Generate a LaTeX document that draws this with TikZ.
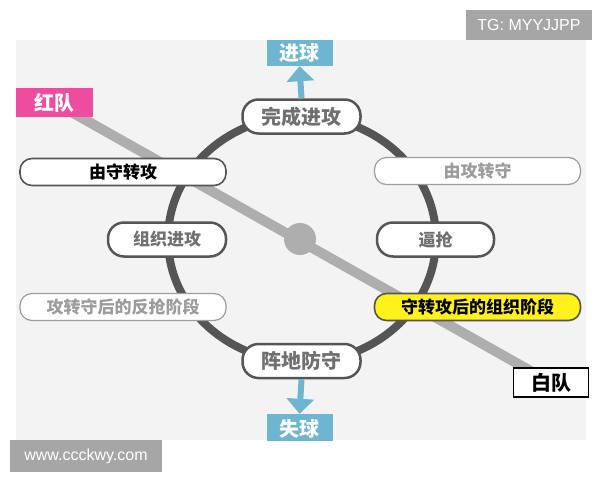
\documentclass[tikz,border=0pt]{standalone}
\usepackage{fontspec}
\setmainfont{Liberation Sans}
\newfontfamily\cjk{Noto Sans CJK SC}
\usetikzlibrary{arrows.meta,backgrounds}
\definecolor{panelc}{HTML}{F3F3F3}
\definecolor{ringc}{HTML}{555555}
\definecolor{teamc}{HTML}{AEAEAE}
\definecolor{bluec}{HTML}{6DB5D0}
\definecolor{pinkc}{HTML}{EE4D9E}
\definecolor{yelc}{HTML}{FFF21A}
\definecolor{tagc}{HTML}{A6A6A6}
\definecolor{txtg}{HTML}{707070}
\definecolor{txtl}{HTML}{9C9C9C}
\begin{document}
\begin{tikzpicture}[x=1pt,y=-1pt,
  pill/.style={draw=ringc,line width=2.5pt,fill=white,rounded corners=16pt,
    minimum width=118pt,minimum height=34pt,inner sep=0pt,text=txtg,
    font=\cjk\bfseries\fontsize{17}{17}\selectfont},
  bigpill/.style={pill,font=\cjk\bfseries\fontsize{20}{20}\selectfont},
  bar/.style={fill=white,rounded corners=12pt,minimum width=206pt,minimum height=27pt,
    inner sep=0pt,font=\cjk\bfseries\fontsize{17}{17}\selectfont},
  darkbar/.style={bar,draw=ringc,line width=1.6pt,text=black},
  lightbar/.style={bar,draw=txtl,line width=1.2pt,text=txtl},
  goalbox/.style={fill=bluec,text=white,minimum width=66pt,minimum height=26pt,inner sep=0pt,
    font=\cjk\bfseries\fontsize{20}{20}\selectfont},
  teambox/.style={minimum width=77pt,minimum height=29pt,inner sep=0pt,
    font=\cjk\bfseries\fontsize{20}{20}\selectfont},
  tag/.style={fill=tagc,text=white,inner sep=0pt,font=\fontsize{16}{16}\selectfont},
  goalarrow/.style={draw=bluec,line width=6pt,-{Triangle[width=27pt,length=15pt]}},
  teamline/.style={draw=teamc,line width=10pt}
]
\useasboundingbox (0,0) rectangle (600,480);

% ring
\draw[ringc,line width=8pt] (302,239) ellipse [x radius=134, y radius=123];

% team boxes
\node[teambox,fill=pinkc,text=white] (red) at (54.5,102.5) {红队};
\node[teambox,fill=white,draw=black,line width=1.5pt,text=black,minimum width=75pt] (white) at (551,382.5) {白队};

\begin{scope}[on background layer]
  \fill[white] (0,0) rectangle (600,480);
  \fill[panelc] (16,40) rectangle (586,440);
  \draw[teamline] (red.center) -- (white.center);
\end{scope}

% centre dot
\node[circle,fill=teamc,minimum size=32pt,inner sep=0pt] (dot) at (300,239) {};

% ring nodes
\node[bigpill] (finish) at (301.5,116.5) {完成进攻};
\node[bigpill] (defend) at (301.5,361) {阵地防守};
\node[pill] (organise) at (167,239.5) {组织进攻};
\node[pill,minimum width=117pt] (press) at (435.5,239.5) {逼抢};

% side bars
\node[darkbar] (d2a) at (123,172) {由守转攻};
\node[lightbar] (a2d) at (477.5,171) {由攻转守};
\node[lightbar] (counter) at (123,307) {攻转守后的反抢阶段};
\node[darkbar,fill=yelc] (orgphase) at (477.5,307) {守转攻后的组织阶段};

% goals
\node[goalbox] (score) at (299.5,53) {进球};
\begin{scope}
  \clip (16,40) rectangle (586,440);
  \node[goalbox,minimum height=30pt] (concede) at (299.5,429) {失球};
\end{scope}
\draw[goalarrow] (finish.north) -- (score.south);
\draw[goalarrow] (defend.south) -- (concede.north);

% watermark tags
\node[tag,minimum width=126pt,minimum height=30pt] (tg) at (529,25) {TG: MYYJJPP};
\node[tag,minimum width=152pt,minimum height=32pt] (www) at (86,456) {www.ccckwy.com};
\end{tikzpicture}
\end{document}
